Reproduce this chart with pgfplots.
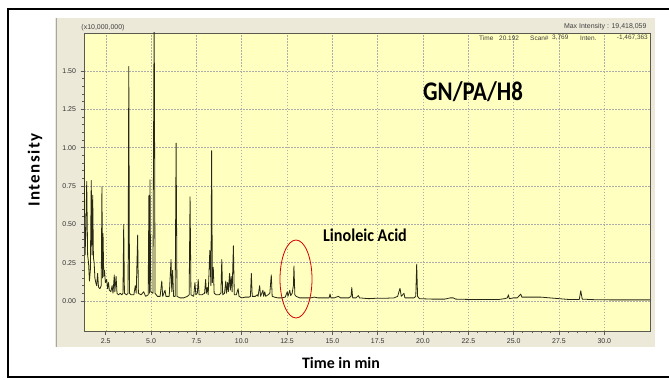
\documentclass[border=0pt]{standalone}
\usepackage{fontspec}
\setmainfont{Liberation Sans}
\newfontfamily\calibri{Carlito}
\usepackage{pgfplots}
\pgfplotsset{compat=1.18}
\definecolor{plotyellow}{RGB}{255,255,192}
\definecolor{panelgrey}{RGB}{236,233,216}
\definecolor{chrom}{RGB}{40,40,22}
\definecolor{axgrey}{RGB}{90,90,80}
\begin{document}
\begin{tikzpicture}[x=1bp,y=1bp]
\useasboundingbox (0,0) rectangle (669,379);
\fill[white] (0,0) rectangle (669,379);
\fill[panelgrey] (55,32) rectangle (655,361);
\draw[gray!70, line width=0.8bp] (56,32) -- (56,361);
\draw[black, line width=2bp] (669,370) -- (8,370) -- (8,2) -- (669,2);
\begin{axis}[
  at={(84bp,48bp)}, anchor=south west,
  width=566bp, height=298bp, scale only axis,
  xmin=1.3, xmax=32.52, ymin=-0.196, ymax=1.748,
  axis background/.style={fill=plotyellow},
  axis line style={axgrey, line width=0.8bp},
  xtick={2.5,5,...,30}, ytick={0,0.25,...,1.5},
  minor x tick num=4, minor y tick num=4,
  xtick pos=left, ytick pos=left,
  tick align=outside,
  major tick length=3.5bp, minor tick length=2bp,
  tick style={axgrey, line width=0.6bp},
  grid=major,
  major grid style={gray!65, line width=0.5bp, dash pattern=on 1.5bp off 1.5bp},
  ticklabel style={font=\fontsize{7}{8}\selectfont, text=black!80},
  /pgf/number format/assume math mode=true,
  xticklabel style={/pgf/number format/.cd, fixed, fixed zerofill, precision=1},
  yticklabel style={/pgf/number format/.cd, fixed, fixed zerofill, precision=2},
  xticklabel shift=1bp, yticklabel shift=1bp,
]
\addplot[chrom, line width=0.8bp, line join=round] coordinates {
(1.30,0.95)(1.33,0.60)(1.36,0.30)(1.40,0.45)(1.45,0.78)(1.50,0.30)(1.55,0.25)(1.60,0.13)(1.65,0.20)(1.70,0.785)(1.74,0.30)(1.78,0.69)(1.82,0.28)(1.86,0.25)(1.90,0.15)(1.95,0.12)(2.00,0.10)(2.05,0.18)(2.10,0.09)(2.18,0.08)(2.25,0.10)(2.29,0.745)(2.32,0.15)(2.35,0.44)(2.39,0.16)(2.43,0.20)(2.48,0.12)(2.55,0.14)(2.60,0.08)(2.65,0.12)(2.70,0.07)(2.78,0.06)(2.85,0.10)(2.90,0.05)(2.97,0.17)(3.00,0.06)(3.07,0.16)(3.12,0.05)(3.20,0.04)(3.30,0.05)(3.38,0.04)(3.45,0.05)(3.49,0.50)(3.53,0.05)(3.65,0.04)(3.73,0.05)(3.77,1.53)(3.81,0.05)(3.90,0.04)(4.05,0.04)(4.13,0.10)(4.18,0.05)(4.26,0.43)(4.30,0.05)(4.45,0.04)(4.59,0.06)(4.70,0.03)(4.84,0.04)(4.88,0.69)(4.91,0.05)(4.94,0.79)(4.98,0.06)(5.10,0.05)(5.17,1.94)(5.22,0.05)(5.35,0.03)(5.50,0.03)(5.59,0.13)(5.64,0.03)(5.77,0.07)(5.82,0.03)(6.00,0.03)(6.10,0.27)(6.14,0.06)(6.19,0.20)(6.24,0.03)(6.33,0.03)(6.38,1.03)(6.43,0.03)(6.60,0.02)(6.80,0.02)(7.00,0.03)(7.10,0.04)(7.15,0.68)(7.20,0.04)(7.35,0.03)(7.42,0.12)(7.47,0.04)(7.55,0.05)(7.60,0.14)(7.65,0.04)(7.80,0.04)(7.95,0.05)(8.01,0.14)(8.05,0.05)(8.10,0.09)(8.15,0.04)(8.24,0.33)(8.30,0.10)(8.34,0.98)(8.38,0.12)(8.43,0.22)(8.48,0.05)(8.60,0.04)(8.75,0.04)(8.85,0.05)(8.90,0.27)(8.95,0.04)(9.05,0.05)(9.12,0.13)(9.16,0.05)(9.22,0.12)(9.26,0.06)(9.33,0.18)(9.37,0.07)(9.42,0.16)(9.47,0.06)(9.54,0.36)(9.59,0.04)(9.70,0.04)(9.80,0.08)(9.85,0.03)(10.00,0.02)(10.20,0.025)(10.40,0.025)(10.48,0.03)(10.53,0.18)(10.58,0.03)(10.75,0.03)(10.85,0.04)(10.90,0.03)(10.99,0.10)(11.04,0.03)(11.17,0.07)(11.21,0.03)(11.27,0.06)(11.32,0.03)(11.45,0.04)(11.55,0.05)(11.63,0.17)(11.68,0.03)(11.80,0.025)(12.00,0.02)(12.20,0.02)(12.40,0.025)(12.51,0.06)(12.55,0.03)(12.65,0.07)(12.70,0.035)(12.78,0.05)(12.85,0.10)(12.88,0.228)(12.93,0.04)(13.00,0.03)(13.20,0.02)(13.50,0.02)(13.80,0.02)(14.00,0.025)(14.20,0.02)(14.40,0.02)(14.60,0.02)(14.82,0.02)(14.87,0.045)(14.92,0.02)(15.10,0.02)(15.33,0.03)(15.45,0.02)(15.90,0.02)(16.03,0.03)(16.07,0.087)(16.12,0.02)(16.30,0.02)(16.43,0.035)(16.50,0.02)(17.00,0.015)(17.50,0.018)(18.00,0.018)(18.40,0.02)(18.60,0.03)(18.73,0.083)(18.80,0.03)(18.95,0.05)(19.00,0.02)(19.50,0.02)(19.60,0.03)(19.65,0.24)(19.70,0.03)(19.80,0.015)(20.50,0.012)(21.20,0.012)(21.50,0.02)(21.67,0.02)(21.80,0.012)(22.50,0.01)(23.50,0.01)(24.20,0.01)(24.50,0.015)(24.65,0.02)(24.71,0.04)(24.76,0.015)(25.00,0.02)(25.20,0.02)(25.39,0.045)(25.45,0.025)(26.50,0.025)(27.00,0.02)(27.50,0.015)(28.00,0.01)(28.62,0.01)(28.70,0.067)(28.78,0.012)(29.50,0.008)(30.50,0.007)(31.50,0.007)(32.52,0.007)
};
\end{axis}
\draw[red!85!black, line width=0.8bp] (296,100) ellipse [x radius=16, y radius=39];
\node[font=\fontsize{7}{8}\selectfont, text=black!75] at (103,351) {(x10,000,000)};
\node[font=\fontsize{7}{8}\selectfont, text=black!75, anchor=east] at (650,352) {Max Intensity : 19,418,059};
\begin{scope}[every node/.style={font=\fontsize{6.5}{8}\selectfont, text=black!75, inner sep=0pt}]
\node[anchor=west] at (479,341) {Time};
\node[anchor=west] at (499,341) {20.192};
\node[anchor=west] at (530,341) {Scan\#};
\node[anchor=west] at (552,341) {3,769};
\node[anchor=west] at (580,341) {Inten.};
\node[anchor=east] at (648,341) {-1,467,363};
\end{scope}
\node[font=\calibri\bfseries\fontsize{27}{30}\selectfont, xscale=0.85] at (473,287) {GN/PA/H8};
\node[font=\calibri\bfseries\fontsize{18}{20}\selectfont, xscale=0.9] at (365,144) {Linoleic Acid};
\node[font=\calibri\bfseries\fontsize{17}{20}\selectfont\addfontfeature{LetterSpace=9}, rotate=90] at (35,209) {Intensity};
\node[font=\calibri\bfseries\fontsize{16}{18}\selectfont] at (341,16) {Time in min};
\end{tikzpicture}
\end{document}
